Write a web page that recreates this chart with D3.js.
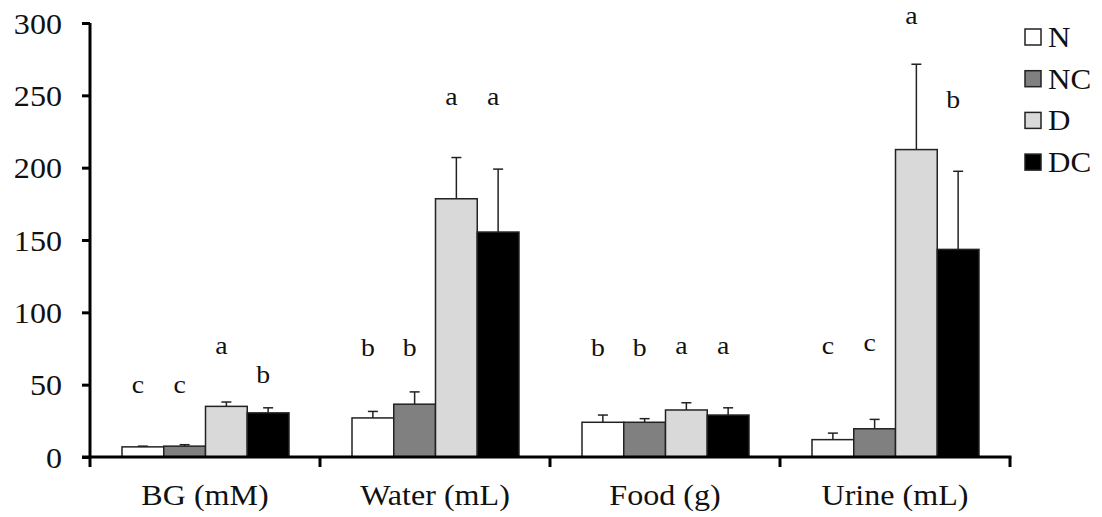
<!DOCTYPE html>
<html>
<head>
<meta charset="utf-8">
<script src="https://cdn.jsdelivr.net/npm/d3@7"></script>
<style>
  html, body { margin: 0; padding: 0; background: #fff; }
  svg { display: block; }
  text { font-family: "Liberation Serif", "Times New Roman", serif; fill: #111; }
</style>
</head>
<body>
<svg id="chart" width="1102" height="517"></svg>
<script>
// ---- data ----
const categories = ["BG (mM)", "Water (mL)", "Food (g)", "Urine (mL)"];
const groups = ["N", "NC", "D", "DC"];
const valuesN  = [7, 27, 24, 12];
const valuesNC = [7.5, 36.5, 24, 19.5];
const valuesD  = [35, 178.5, 32.5, 212.5];
const valuesDC = [30.5, 155.5, 29, 143.5];
const errN  = [0.5, 4.5, 5, 4.5];
const errNC = [1, 8.5, 2.5, 6.5];
const errD  = [3, 28.5, 5, 59];
const errDC = [3.5, 43.5, 5, 54];
const lettersN  = ["c", "b", "b", "c"];
const lettersNC = ["c", "b", "b", "c"];
const lettersD  = ["a", "a", "a", "a"];
const lettersDC = ["b", "a", "a", "b"];
const letterLevelN  = [44, 70, 70, 71.5];
const letterLevelNC = [44, 70, 70, 73];
const letterLevelD  = [71, 243, 71, 299];
const letterLevelDC = [51, 243, 71, 241];
const yTicks = [0, 50, 100, 150, 200, 250, 300];

const seriesValues = [valuesN, valuesNC, valuesD, valuesDC];
const seriesErr = [errN, errNC, errD, errDC];
const seriesLetters = [lettersN, lettersNC, lettersD, lettersDC];
const seriesLetterLevel = [letterLevelN, letterLevelNC, letterLevelD, letterLevelDC];
const fills = ["#ffffff", "#808080", "#d9d9d9", "#000000"];

// ---- layout ----
const svg = d3.select("#chart");
const X0 = 90, X1 = 1010, Y0 = 457, Y1 = 23;
const SX = 1.07; // horizontal text stretch
const FONT = "'Liberation Serif', 'Times New Roman', serif";

const x = d3.scaleBand().domain(categories).range([X0, X1]).paddingInner(0).paddingOuter(0);
const xInner = d3.scaleBand().domain(groups).range([32, x.bandwidth() - 31]).padding(0);
const y = d3.scaleLinear().domain([0, 300]).range([Y0, Y1]);

const rows = [];
categories.forEach((c, ci) => {
  groups.forEach((g, gi) => {
    rows.push({
      cat: c, grp: g, gi,
      v: seriesValues[gi][ci],
      e: seriesErr[gi][ci],
      letter: seriesLetters[gi][ci],
      lv: seriesLetterLevel[gi][ci]
    });
  });
});

// bars
const barG = svg.append("g");
barG.selectAll("rect").data(rows).join("rect")
  .attr("x", d => x(d.cat) + xInner(d.grp))
  .attr("y", d => y(d.v))
  .attr("width", xInner.bandwidth())
  .attr("height", d => y(0) - y(d.v))
  .attr("fill", d => fills[d.gi])
  .attr("stroke", "#222")
  .attr("stroke-width", 1.5);

// error bars (upper only)
const errG = svg.append("g").attr("stroke", "#222").attr("stroke-width", 1.5);
rows.forEach(d => {
  const cx = x(d.cat) + xInner(d.grp) + xInner.bandwidth() / 2;
  errG.append("line").attr("x1", cx).attr("x2", cx).attr("y1", y(d.v)).attr("y2", y(d.v + d.e));
  errG.append("line").attr("x1", cx - 5).attr("x2", cx + 5).attr("y1", y(d.v + d.e)).attr("y2", y(d.v + d.e));
});

// letters
svg.append("g").selectAll("text").data(rows).join("text")
  .attr("transform", d => `translate(${x(d.cat) + xInner(d.grp) + xInner.bandwidth() / 2 - 5},${y(d.lv)}) scale(${SX},1)`)
  .attr("text-anchor", "middle")
  .attr("font-family", FONT)
  .attr("font-size", 26)
  .text(d => d.letter);

// y axis
const yAxis = d3.axisLeft(y).tickValues(yTicks).tickSize(8).tickPadding(20);
const yg = svg.append("g").attr("transform", `translate(${X0},0)`).call(yAxis)
  .attr("font-family", FONT);
yg.select(".domain").attr("stroke", "#000").attr("stroke-width", 3)
  .attr("d", `M0,${Y1}V${Y0}`);
yg.selectAll(".tick line").attr("stroke", "#000").attr("stroke-width", 3);
yg.selectAll(".tick text")
  .attr("font-size", 30)
  .attr("fill", "#111")
  .attr("dy", null)
  .attr("y", 10)
  .each(function() {
    const t = d3.select(this);
    const xx = +t.attr("x");
    t.attr("x", null).attr("transform", `translate(${xx},0) scale(${SX},1)`);
  });

// x axis
const xAxis = d3.axisBottom(x).tickSize(0).tickPadding(0);
const xg = svg.append("g").attr("transform", `translate(0,${Y0})`).call(xAxis)
  .attr("font-family", FONT);
xg.select(".domain").attr("stroke", "#000").attr("stroke-width", 3)
  .attr("d", `M${X0 - 8},0H${X1 + 1.5}`);
xg.selectAll(".tick line").remove();
xg.selectAll(".tick text")
  .attr("font-size", 30)
  .attr("fill", "#111")
  .attr("dy", null)
  .attr("y", null)
  .attr("transform", `translate(0,48) scale(${SX},1)`);
// category separator ticks
const sepTicks = categories.map(c => x(c)).concat([X1]);
xg.selectAll("line.sep").data(sepTicks).join("line")
  .attr("class", "sep")
  .attr("x1", d => d).attr("x2", d => d)
  .attr("y1", 0).attr("y2", 10)
  .attr("stroke", "#000").attr("stroke-width", 3);

// legend
const leg = svg.append("g").attr("font-family", FONT);
groups.forEach((g, i) => {
  const cy = 37 + i * 41.7;
  leg.append("rect").attr("x", 1025).attr("y", cy - 8).attr("width", 16).attr("height", 16)
    .attr("fill", fills[i]).attr("stroke", "#222").attr("stroke-width", 1.5);
  leg.append("text").attr("transform", `translate(1048,${cy + 10}) scale(${SX},1)`)
    .attr("font-size", 29).text(g);
});
</script>
</body>
</html>
